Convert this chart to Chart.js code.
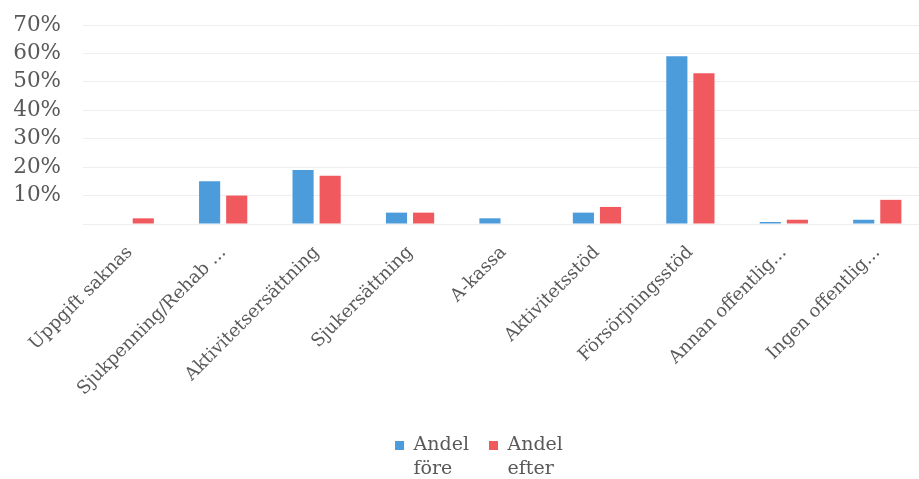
<!DOCTYPE html>
<html>
<head>
<meta charset="utf-8">
<script src="https://cdn.jsdelivr.net/npm/chart.js@4"></script>
<style>
html,body{margin:0;padding:0;background:#fff;overflow:hidden;}
#wrap{width:924px;height:479px;}
</style>
</head>
<body>
<div id="wrap"><canvas id="c" width="924" height="479"></canvas></div>
<script>
const categories = ['Uppgift saknas','Sjukpenning/Rehab ...','Aktivitetsersättning','Sjukersättning','A-kassa','Aktivitetsstöd','Försörjningsstöd','Annan offentlig...','Ingen offentlig...'];
const andelFore  = [0, 15, 19, 4, 2, 4, 59, 0.7, 1.5];
const andelEfter = [2, 10, 17, 4, 0, 6, 53, 1.5, 8.5];
const foreLabel  = ['Andel', 'före'];
const efterLabel = ['Andel', 'efter'];
const yTickLabels = ['', '10%', '20%', '30%', '40%', '50%', '60%', '70%'];

// measure multi-line legend text by its longest line
function multiLine(lines) {
  const a = lines.slice();
  a.toString = () => lines.reduce((p, q) => (p.length >= q.length ? p : q));
  return a;
}

const FONT = "'DejaVu Serif', serif";
const legendFix = {
  id: 'legendFix',
  afterLayout(chart) {
    const l = chart.legend;
    if (l) { l.left += 17; l.right += 17; l.bottom = chart.height; }
  }
};

new Chart(document.getElementById('c'), {
  type: 'bar',
  data: {
    labels: categories,
    datasets: [
      { label: multiLine(foreLabel), data: andelFore, backgroundColor: '#4C9BDB', categoryPercentage: 0.58, barPercentage: 0.78 },
      { label: multiLine(efterLabel), data: andelEfter, backgroundColor: '#F05A5F', categoryPercentage: 0.58, barPercentage: 0.78 }
    ]
  },
  options: {
    responsive: false,
    animation: false,
    layout: { padding: { top: 25, right: 0, left: 0, bottom: 14 } },
    plugins: {
      tooltip: { enabled: false },
      legend: {
        position: 'bottom',
        labels: {
          boxWidth: 9, boxHeight: 9, padding: 20,
          color: '#595959',
          font: { family: FONT, size: 19, lineHeight: 1.25 }
        }
      }
    },
    scales: {
      x: {
        grid: { display: false, drawTicks: false },
        border: { display: false },
        ticks: {
          minRotation: 45, maxRotation: 45, autoSkip: false,
          padding: 18,
          color: '#595959',
          font: { family: FONT, size: 18 }
        },
        afterFit(scale) { scale.height = 479 - 14 - 224 - scale.chart.legend.height; }
      },
      y: {
        min: 0, max: 70,
        grid: { color: '#eeeeee', drawTicks: false },
        border: { display: false },
        ticks: {
          stepSize: 10,
          autoSkip: false,
          padding: 22,
          color: '#595959',
          font: { family: FONT, size: 21.5 },
          callback: (v, i) => yTickLabels[i]
        },
        afterFit(scale) { scale.width = 83; scale.paddingTop = 0; scale.paddingBottom = 0; }
      }
    }
  },
  plugins: [legendFix]
});
</script>
</body>
</html>
